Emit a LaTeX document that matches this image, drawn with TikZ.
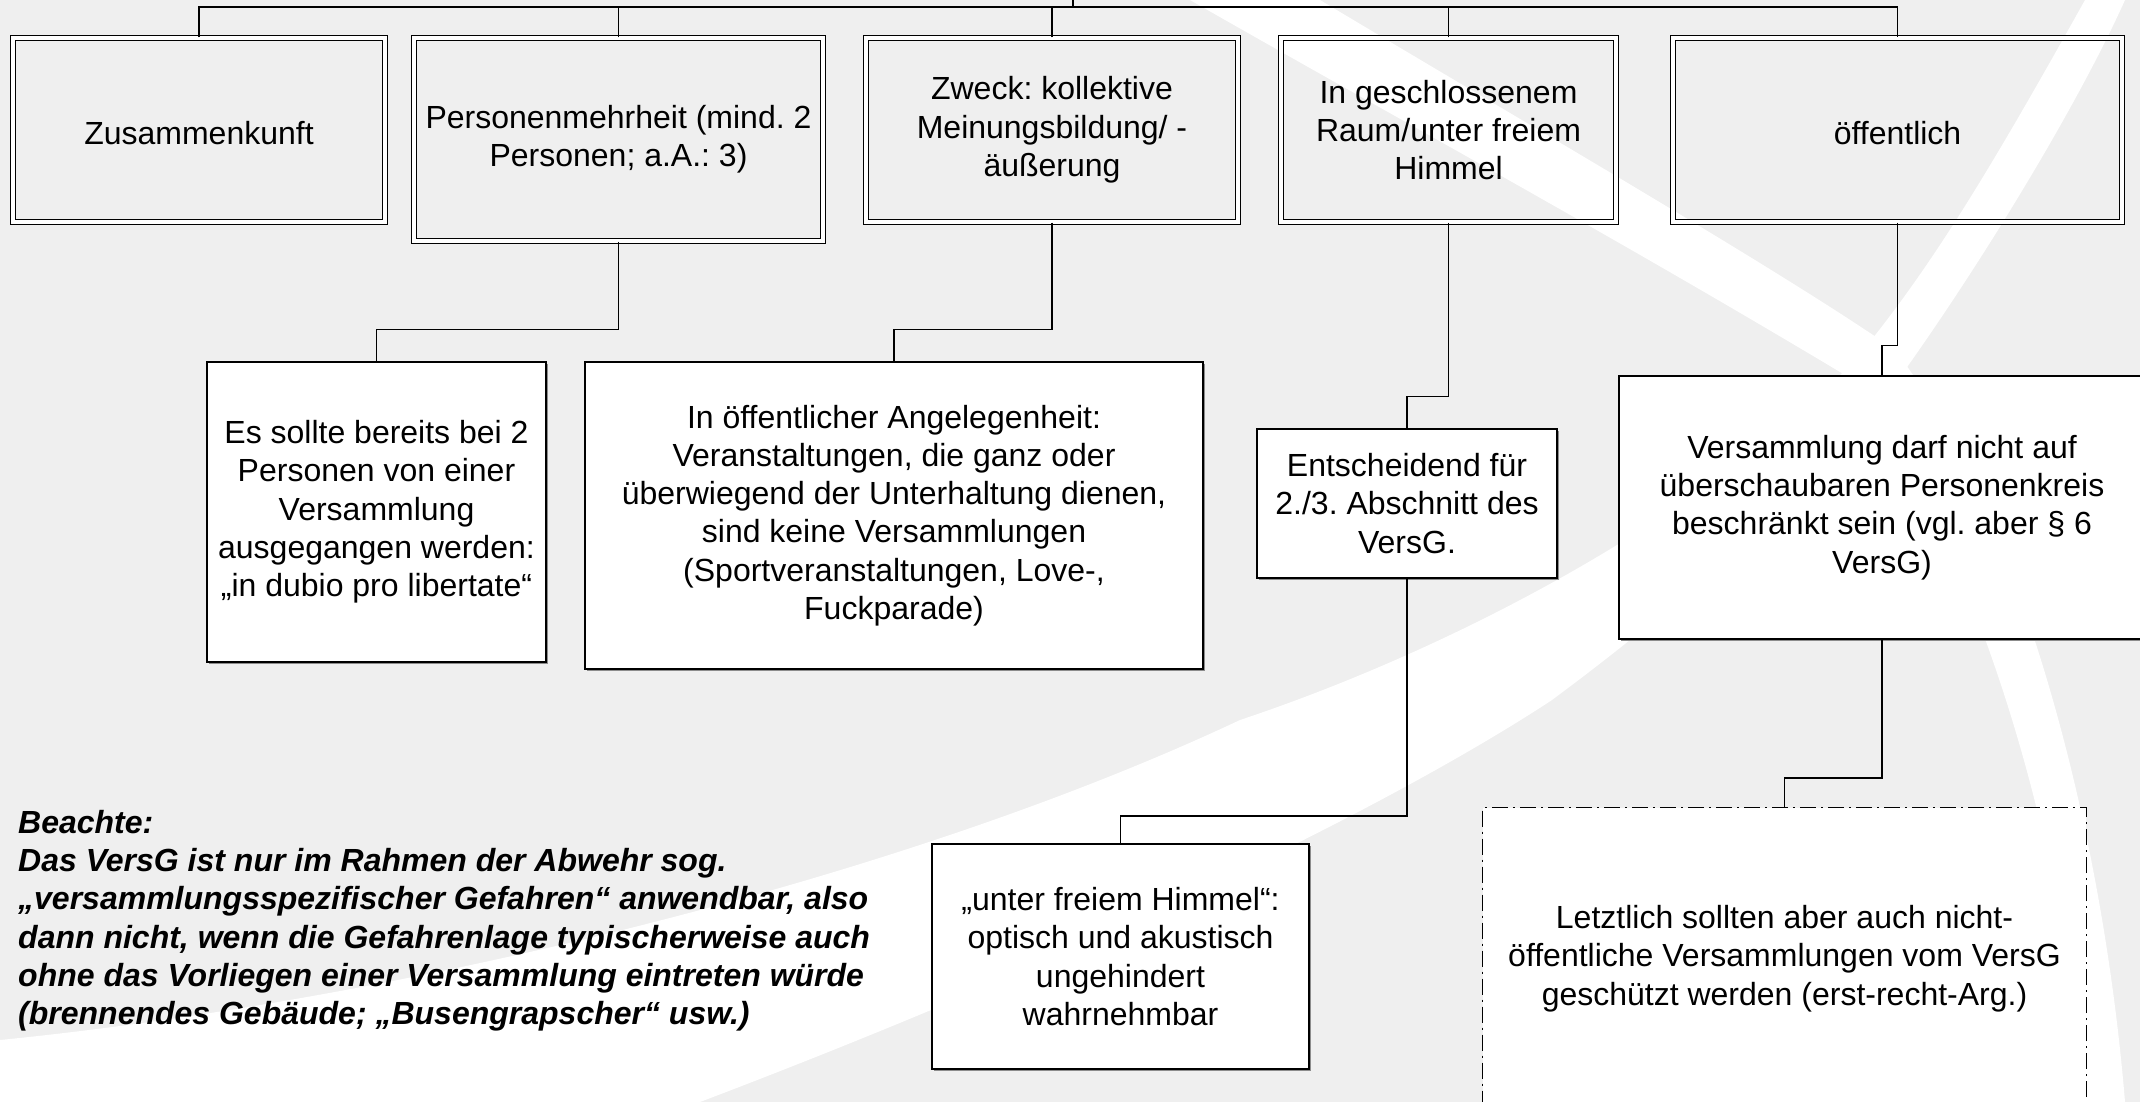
\documentclass[tikz,border=0pt]{standalone}
\usepackage{fontspec}
\setmainfont{Liberation Sans}
\usetikzlibrary{shadows}
\frenchspacing
\begin{document}
\begin{tikzpicture}[x=1pt,y=-1pt,
  txt/.style={font=\fontsize{32}{38.3}\selectfont, align=center, text=black,
     execute at begin node={\rule{0pt}{29pt}}},
  topbox/.style={txt, draw=black, line width=1.3pt, double=white, double distance=3.7pt, inner sep=0pt},
  lowbox/.style={txt, draw=black, line width=1.6pt, fill=white, inner sep=0pt,
     drop shadow={shadow xshift=1.8pt, shadow yshift=-1.8pt, fill=black!45, opacity=1}},
  dashbox/.style={txt, draw=black, line width=1.3pt, fill=white, inner sep=0pt,
     dash pattern=on 16pt off 5pt on 2pt off 5pt},
  conn/.style={draw=black, line width=1.6pt},
  band/.style={fill=white, draw=none}]
\definecolor{bg}{RGB}{239,239,239}
\useasboundingbox (0,0) rectangle (2140,1102);
\clip (0,0) rectangle (2140,1102);
\fill[bg] (0,0) rectangle (2140,1102);
% background swooshes
\fill[band] (1190,0) -- (1320,0) .. controls (1520,120) and (1780,270) .. (1895,350)
   .. controls (2010,500) and (2100,800) .. (2125,1102) -- (2085,1102)
   .. controls (2060,800) and (1960,520) .. (1850,378)
   .. controls (1620,240) and (1400,120) .. (1190,0) -- cycle;
\fill[band] (2085,0) .. controls (1990,170) and (1930,270) .. (1855,360)
   .. controls (1700,520) and (1450,650) .. (1240,720)
   .. controls (900,880) and (400,1000) .. (0,1040) -- (0,1102) -- (700,1102)
   .. controls (1100,950) and (1400,800) .. (1552,700)
   .. controls (1700,590) and (1820,480) .. (1905,370)
   .. controls (1990,250) and (2080,100) .. (2125,0) -- cycle;
% top row
\node[topbox, minimum width=371.7pt, minimum height=183.7pt] (b1) at (199,130) {Zusammenkunft};
\node[topbox, minimum width=408.7pt, minimum height=202.7pt] (b2) at (618.5,139.5) {Personenmehrheit (mind. 2\\Personen; a.A.: 3)};
\node[topbox, minimum width=371.7pt, minimum height=183.7pt] (b3) at (1052,130) {Zweck: kollektive\\Meinungsbildung/ -\\äußerung};
\node[topbox, minimum width=334.7pt, minimum height=183.7pt] (b4) at (1448.5,130) {In geschlossenem\\Raum/unter freiem\\Himmel};
\node[topbox, minimum width=448.7pt, minimum height=183.7pt] (b5) at (1897.5,130) {öffentlich};
% lower boxes
\node[lowbox, minimum width=339.4pt, minimum height=300.4pt] (l1) at (376.5,512) {Es sollte bereits bei 2\\Personen von einer\\Versammlung\\ausgegangen werden:\\„in dubio pro libertate“};
\node[lowbox, minimum width=618.4pt, minimum height=307.4pt] (l2) at (894,515.5) {In öffentlicher Angelegenheit:\\Veranstaltungen, die ganz oder\\überwiegend der Unterhaltung dienen,\\sind keine Versammlungen\\(Sportveranstaltungen, Love-,\\Fuckparade)};
\node[lowbox, minimum width=300.4pt, minimum height=149.4pt] (l3) at (1407,503.5) {Entscheidend für\\2./3. Abschnitt des\\VersG.};
\node[lowbox, minimum width=526.4pt, minimum height=263.4pt] (l4) at (1882,507.5) {Versammlung darf nicht auf\\überschaubaren Personenkreis\\beschränkt sein (vgl. aber § 6\\VersG)};
\node[lowbox, minimum width=377.4pt, minimum height=225.4pt] (l5) at (1120.5,956.5) {„unter freiem Himmel“:\\optisch und akustisch\\ungehindert\\wahrnehmbar};
\node[dashbox, minimum width=603.7pt, minimum height=301.7pt] (l6) at (1784.5,958.5) {Letztlich sollten aber auch nicht-\\öffentliche Versammlungen vom VersG\\geschützt werden (erst-recht-Arg.)};
% note
\node[anchor=north west, align=left, inner sep=0pt, font=\bfseries\itshape\fontsize{32}{38.3}\selectfont] (note) at (18,810)
 {Beachte:\\Das VersG ist nur im Rahmen der Abwehr sog.\\„versammlungsspezifischer Gefahren“ anwendbar, also\\dann nicht, wenn die Gefahrenlage typischerweise auch\\ohne das Vorliegen einer Versammlung eintreten würde\\(brennendes Gebäude; „Busengrapscher“ usw.)};
% connectors
\coordinate (top) at (1073,0);
\coordinate (rail) at (1073,7.3);
\draw[conn] (b1.north) |- (rail) -| (b5.north);
\draw[conn] (top) -- (rail);
\draw[conn] (b2.north) -- (b2.north |- rail);
\draw[conn] (b3.north) -- (b3.north |- rail);
\draw[conn] (b4.north) -- (b4.north |- rail);
\draw[conn] (b2.south) -- ++(0,88) -| (l1.north);
\draw[conn] (b3.south) -- ++(0,107) -| (l2.north);
\draw[conn] (b4.south) -- ++(0,174) -| (l3.north);
\draw[conn] (b5.south) -- ++(0,123) -| (l4.north);
\draw[conn] (l3.south) -- ++(0,237) -| (l5.north);
\draw[conn] (l4.south) -- ++(0,138) -| (l6.north);
\end{tikzpicture}
\end{document}
